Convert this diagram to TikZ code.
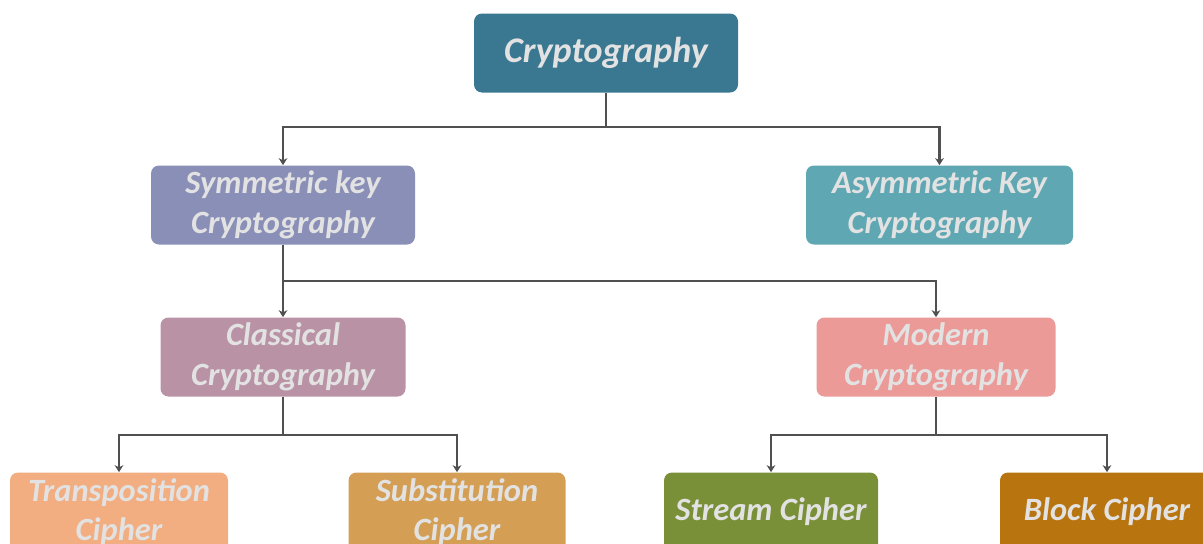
\documentclass[tikz,border=0pt]{standalone}
\usepackage{fontspec}
\setmainfont{Carlito}
\usepackage{tikz}
\usetikzlibrary{arrows.meta}
\definecolor{cryptoc}{HTML}{3A7891}
\definecolor{symc}{HTML}{8A8FB8}
\definecolor{asymc}{HTML}{5FA7B3}
\definecolor{classc}{HTML}{BA92A5}
\definecolor{modc}{HTML}{EB9A98}
\definecolor{transc}{HTML}{F2AD80}
\definecolor{substc}{HTML}{D49F55}
\definecolor{streamc}{HTML}{7A9038}
\definecolor{blockc}{HTML}{B8740E}
\definecolor{txtc}{HTML}{E2E2E2}
\definecolor{linec}{HTML}{505050}

\begin{document}
\begin{tikzpicture}[
  box/.style={rounded corners=1.6mm,minimum height=1.58cm,align=center,inner sep=0pt,
    text=txtc,font=\fontsize{18.5}{22.5}\selectfont\bfseries\itshape},
  arr/.style={-{Stealth[length=4pt,width=5pt]},draw=linec,line width=1.5pt}
]
\useasboundingbox (0,0) rectangle (24.06,-10.88);
\clip (0,0) rectangle (24.06,-10.88);
% top
\node[box,fill=cryptoc,minimum width=5.28cm,font=\fontsize{20.5}{24}\selectfont\bfseries\itshape] (crypto) at (12.12,-1.06) {Cryptography};
% second row
\node[box,fill=symc,minimum width=5.28cm] (sym) at (5.66,-4.10) {Symmetric key\\Cryptography};
\node[box,fill=asymc,minimum width=5.34cm] (asym) at (18.79,-4.10) {Asymmetric Key\\Cryptography};
% third row
\node[box,fill=classc,minimum width=4.9cm] (classic) at (5.66,-7.14) {Classical\\Cryptography};
\node[box,fill=modc,minimum width=4.78cm] (modern) at (18.72,-7.14) {Modern\\Cryptography};
% bottom row
\node[box,fill=transc,minimum width=4.36cm] (trans) at (2.38,-10.24) {Transposition\\Cipher};
\node[box,fill=substc,minimum width=4.34cm] (subst) at (9.14,-10.24) {Substitution\\Cipher};
\node[box,fill=streamc,minimum width=4.28cm] (stream) at (15.42,-10.24) {Stream Cipher};
\node[box,fill=blockc,minimum width=4.28cm] (block) at (22.14,-10.24) {Block Cipher};
% connectors
\draw[arr] (crypto.south) -- ++(0,-0.68) -| (sym.north);
\draw[arr] (crypto.south) -- ++(0,-0.68) -| (asym.north);
\draw[arr] (sym.south) -- (classic.north);
\draw[arr] (sym.south) -- ++(0,-0.72) -| (modern.north);
\draw[arr] (classic.south) -- ++(0,-0.76) -| (trans.north);
\draw[arr] (classic.south) -- ++(0,-0.76) -| (subst.north);
\draw[arr] (modern.south) -- ++(0,-0.76) -| (stream.north);
\draw[arr] (modern.south) -- ++(0,-0.76) -| (block.north);
\end{tikzpicture}
\end{document}
